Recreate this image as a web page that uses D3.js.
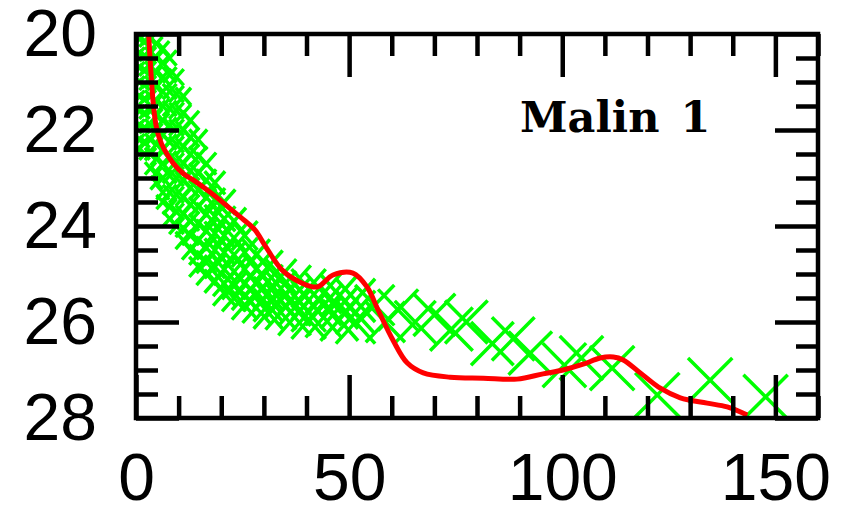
<!DOCTYPE html>
<html>
<head>
<meta charset="utf-8">
<script src="https://cdn.jsdelivr.net/npm/d3@7"></script>
<style>
  html, body { margin: 0; padding: 0; background: #fff; }
  svg { display: block; }
</style>
</head>
<body>
<svg id="chart" width="850" height="508"></svg>
<script>
// Surface-brightness profile of Malin 1: radius (arcsec) vs mu (mag / arcsec^2)

// Axis ticks
const xMajorTicks = [0, 50, 100, 150];
const yMajorTicks = [20, 22, 24, 26, 28];

// Inner observed points, grouped in radial rings (one radius, many mu values)
const ringRadius = [0.8, 2.0, 3.4, 4.8, 6.3, 7.9, 9.5, 11.1, 12.8, 14.6, 16.5, 18.5, 20.7, 23.0, 25.5, 28.2, 31.0, 34.0, 37.2, 40.5, 44.0, 47.7, 51.5];
const ringRadiusErr = [1.2, 1.2, 1.3, 1.4, 1.5, 1.6, 1.7, 1.8, 2.0, 2.1, 2.3, 2.4, 2.6, 2.8, 3.0, 3.2, 3.4, 3.6, 3.8, 4.0, 4.2, 4.4, 4.6];
const ringMuErr = [0.12, 0.12, 0.13, 0.14, 0.15, 0.16, 0.17, 0.18, 0.2, 0.21, 0.23, 0.24, 0.26, 0.28, 0.3, 0.32, 0.34, 0.36, 0.38, 0.4, 0.42, 0.44, 0.45];
const ringMu = [
  [20.1, 20.4, 20.7, 21.0, 21.3, 21.6, 21.9, 22.2, 22.4],
  [20.15, 20.45, 20.75, 21.05, 21.35, 21.65, 21.95, 22.25, 22.5],
  [20.1, 20.4, 20.7, 21.0, 21.3, 21.6, 21.9, 22.2, 22.5, 22.8],
  [20.2, 20.5, 20.8, 21.1, 21.4, 21.7, 22.0, 22.3, 22.6, 22.9, 23.1],
  [20.3, 20.6, 20.9, 21.2, 21.5, 21.8, 22.1, 22.4, 22.7, 23.0, 23.3, 23.5],
  [20.5, 20.85, 21.2, 21.55, 21.9, 22.25, 22.6, 22.95, 23.3, 23.6, 23.85],
  [20.9, 21.25, 21.6, 21.95, 22.3, 22.65, 23.0, 23.35, 23.7, 24.0],
  [21.3, 21.65, 22.0, 22.35, 22.7, 23.05, 23.4, 23.75, 24.05, 24.3],
  [21.8, 22.15, 22.5, 22.85, 23.2, 23.55, 23.9, 24.2, 24.5],
  [22.2, 22.55, 22.9, 23.25, 23.6, 23.95, 24.3, 24.6, 24.85],
  [22.7, 23.05, 23.4, 23.75, 24.1, 24.45, 24.75, 25.0],
  [23.1, 23.45, 23.8, 24.15, 24.5, 24.85, 25.15],
  [23.5, 23.85, 24.2, 24.55, 24.9, 25.2, 25.4],
  [23.9, 24.25, 24.6, 24.95, 25.25, 25.5],
  [24.2, 24.55, 24.9, 25.2, 25.45, 25.65],
  [24.6, 24.9, 25.2, 25.45, 25.7],
  [24.85, 25.15, 25.4, 25.65, 25.8],
  [25.05, 25.3, 25.55, 25.8],
  [25.2, 25.45, 25.7, 25.9],
  [25.3, 25.55, 25.8, 25.95],
  [25.4, 25.65, 25.9],
  [25.45, 25.7, 25.95],
  [25.55, 25.8, 26.0]
];

// Outer observed points, one per radius
const outerRadius = [56.0, 58.5, 61.5, 65.5, 70.0, 74.0, 77.5, 83.6, 88.5, 92.5, 100.5, 104.5, 111.7, 122.3, 134.7, 147.7];
const outerMu = [25.65, 26.0, 25.75, 26.0, 25.85, 26.15, 26.0, 26.45, 26.35, 26.65, 26.9, 26.75, 26.96, 27.52, 27.21, 27.56];
const outerRadiusErr = [4.6, 4.6, 4.7, 4.8, 4.9, 5.0, 5.0, 5.0, 5.0, 5.1, 5.1, 5.1, 5.2, 5.2, 5.2, 5.2];
const outerMuErr = [0.42, 0.42, 0.43, 0.44, 0.44, 0.45, 0.45, 0.45, 0.45, 0.45, 0.46, 0.46, 0.46, 0.46, 0.46, 0.46];

// Model profile
const modelRadius = [2.9, 3.5, 4.1, 4.7, 5.4, 6.6, 8.7, 11.0, 13.4, 16.7, 19.7, 22.5, 25.0, 27.9, 30.5, 34.3, 38.5, 42.5, 46.2, 50.9, 54.2, 56.8, 60.3, 63.6, 67.4, 73.7, 81.5, 89.4, 95.5, 100.2, 104.9, 108.9, 112.0, 114.3, 118.3, 123.0, 127.7, 134.0, 138.7, 143.4];
const modelMu = [19.9, 20.8, 21.5, 21.9, 22.15, 22.4, 22.69, 22.9, 23.04, 23.25, 23.46, 23.67, 23.85, 24.08, 24.44, 24.92, 25.17, 25.27, 25.02, 24.98, 25.27, 25.75, 26.38, 26.85, 27.06, 27.15, 27.17, 27.19, 27.08, 27.0, 26.88, 26.75, 26.73, 26.79, 27.06, 27.38, 27.58, 27.69, 27.77, 27.94];

const galaxyName = ["Malin", "1"];

// ---- layout ----
const svg = d3.select("#chart");
const plotLeft = 136, plotRight = 818, plotTop = 34, plotBottom = 418;

const x = d3.scaleLinear().domain([0, 160]).range([plotLeft, plotRight]);
const y = d3.scaleLinear().domain([20, 28]).range([plotTop, plotBottom]);

svg.append("rect").attr("width", 850).attr("height", 508).attr("fill", "#fff");

svg.append("defs").append("clipPath").attr("id", "plot-clip")
  .append("rect").attr("x", plotLeft).attr("y", plotTop)
  .attr("width", plotRight - plotLeft).attr("height", plotBottom - plotTop);

// Observed points as X crosses spanning their error ranges
const points = [];
ringRadius.forEach((r, i) => {
  ringMu[i].forEach(m => points.push({ r, m, dr: ringRadiusErr[i], dm: ringMuErr[i] }));
});
outerRadius.forEach((r, i) => {
  points.push({ r, m: outerMu[i], dr: outerRadiusErr[i], dm: outerMuErr[i] });
});

const dataLayer = svg.append("g").attr("clip-path", "url(#plot-clip)");
const crosses = dataLayer.append("g")
  .attr("stroke", "#00ff00")
  .attr("stroke-width", 3.5)
  .attr("stroke-linecap", "butt")
  .attr("fill", "none");

crosses.selectAll("path").data(points).join("path")
  .attr("d", d =>
    `M${x(d.r - d.dr)},${y(d.m - d.dm)}L${x(d.r + d.dr)},${y(d.m + d.dm)}` +
    `M${x(d.r - d.dr)},${y(d.m + d.dm)}L${x(d.r + d.dr)},${y(d.m - d.dm)}`);

// Model curve
const model = modelRadius.map((r, i) => ({ r, m: modelMu[i] }));
dataLayer.append("path")
  .datum(model)
  .attr("fill", "none")
  .attr("stroke", "#ff0000")
  .attr("stroke-width", 5)
  .attr("stroke-linejoin", "round")
  .attr("d", d3.line().x(d => x(d.r)).y(d => y(d.m)).curve(d3.curveCatmullRom.alpha(0.5)));

// ---- axes: inward ticks on all four sides ----
const majorLen = 43, minorLen = 22;
const tickFont = "'Liberation Sans', Arial, sans-serif";
const xMinor = d3.range(0, 161, 10).filter(v => !xMajorTicks.includes(v));
const yMinor = d3.range(20, 28.01, 0.5).filter(v => !yMajorTicks.includes(v));

function styleAxis(g) {
  g.select(".domain").remove();
  g.selectAll(".tick line").attr("stroke", "#000").attr("stroke-width", 4.5);
  g.selectAll("text").attr("fill", "#000")
    .style("font-family", tickFont).style("font-size", "66px");
}

// bottom
svg.append("g").attr("transform", `translate(0,${plotBottom})`)
  .call(d3.axisBottom(x).tickValues(xMajorTicks).tickSize(-majorLen).tickPadding(35).tickFormat(d3.format("d")))
  .call(styleAxis);
svg.append("g").attr("transform", `translate(0,${plotBottom})`)
  .call(d3.axisBottom(x).tickValues(xMinor).tickSize(-minorLen).tickFormat(""))
  .call(styleAxis);
// top
svg.append("g").attr("transform", `translate(0,${plotTop})`)
  .call(d3.axisTop(x).tickValues(xMajorTicks).tickSize(-majorLen).tickFormat(""))
  .call(styleAxis);
svg.append("g").attr("transform", `translate(0,${plotTop})`)
  .call(d3.axisTop(x).tickValues(xMinor).tickSize(-minorLen).tickFormat(""))
  .call(styleAxis);
// left
svg.append("g").attr("transform", `translate(${plotLeft},0)`)
  .call(d3.axisLeft(y).tickValues(yMajorTicks).tickSize(-majorLen).tickPadding(39).tickFormat(d3.format("d")))
  .call(styleAxis);
svg.append("g").attr("transform", `translate(${plotLeft},0)`)
  .call(d3.axisLeft(y).tickValues(yMinor).tickSize(-minorLen).tickFormat(""))
  .call(styleAxis);
// right
svg.append("g").attr("transform", `translate(${plotRight},0)`)
  .call(d3.axisRight(y).tickValues(yMajorTicks).tickSize(-majorLen).tickFormat(""))
  .call(styleAxis);
svg.append("g").attr("transform", `translate(${plotRight},0)`)
  .call(d3.axisRight(y).tickValues(yMinor).tickSize(-minorLen).tickFormat(""))
  .call(styleAxis);

// frame
svg.append("rect")
  .attr("x", plotLeft).attr("y", plotTop)
  .attr("width", plotRight - plotLeft).attr("height", plotBottom - plotTop)
  .attr("fill", "none").attr("stroke", "#000").attr("stroke-width", 4.5);

// galaxy name
const nameText = svg.append("text")
  .attr("x", 520).attr("y", 132)
  .style("font-family", "'DejaVu Serif', 'Liberation Serif', serif")
  .style("font-weight", "bold").style("font-size", "43px")
  .attr("fill", "#000");
nameText.append("tspan").text(galaxyName[0]);
nameText.append("tspan").attr("dx", 6).text(" " + galaxyName[1]);
</script>
</body>
</html>
